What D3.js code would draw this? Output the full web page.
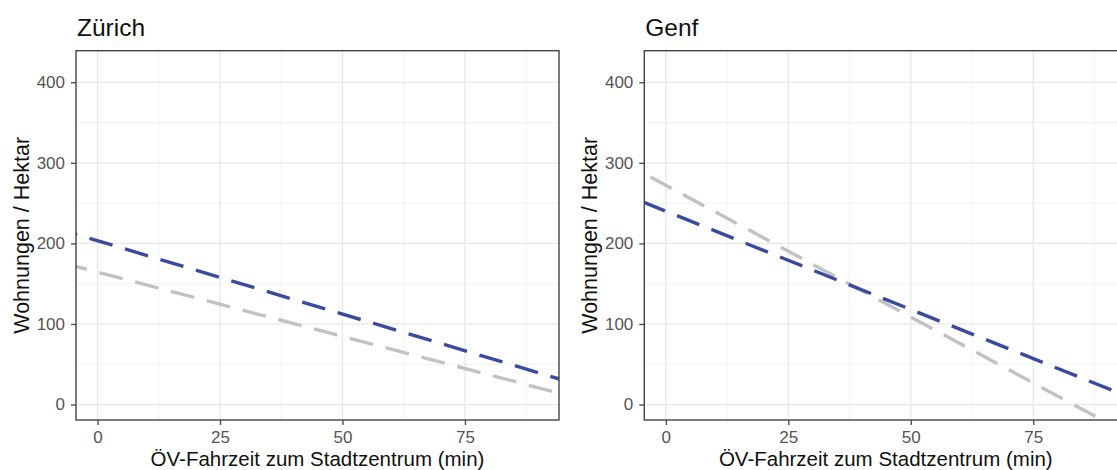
<!DOCTYPE html>
<html><head><meta charset="utf-8">
<script src="https://cdn.jsdelivr.net/npm/d3@7"></script>
<style>
body{margin:0;background:#fff}
svg{display:block}
text{font-family:"Liberation Sans",Arial,Helvetica,sans-serif}
</style>
</head><body>
<svg id="chart" width="1117" height="470"></svg>
<script>
// ---- data ----
const panelTitles = ["Zürich", "Genf"];
const xTicks = [0, 25, 50, 75];
const xMinor = [12.5, 37.5, 62.5, 87.5];
const yTicks = [0, 100, 200, 300, 400];
const yMinor = [50, 150, 250, 350];
const lineX = [-5, 95];                 // x positions of the two line end points
const blueZuerich = [212.4, 30.4];
const greyZuerich = [172.4, 12.8];
const blueGenf = [252.2, 8.2];
const greyGenf = [288.5, -38.6];
const xTitle = "ÖV-Fahrzeit zum Stadtzentrum (min)";
const yTitle = "Wohnungen / Hektar";

// ---- layout ----
(function () {
const svg = d3.select("#chart");
const W = 1117, H = 470;
const panelW = 483, pTop = 50.7, pBottom = 420;
const panelLeft = [76, 644.3];
const blue = "#3a4a9e", grey = "#c2c2c2";

const x = d3.scaleLinear().domain([-4.4, 94.2]).range([0, panelW]);
const y = d3.scaleLinear().domain([-19.2, 439.2]).range([pBottom - pTop, 0]);

const series = [
  [{vals: greyZuerich, color: grey, off: 9.8}, {vals: blueZuerich, color: blue, off: 19.8}],
  [{vals: greyGenf, color: grey, off: 26.6}, {vals: blueGenf, color: blue, off: 35.6}]
];

svg.append("rect").attr("width", W).attr("height", H).attr("fill", "#fff");

panelTitles.forEach((title, i) => {
  const g = svg.append("g").attr("transform", `translate(${panelLeft[i]},${pTop})`);
  const ph = pBottom - pTop;

  g.append("rect").attr("width", panelW).attr("height", ph).attr("fill", "#fff");

  // minor grid
  g.selectAll(".xmin").data(xMinor).join("line")
    .attr("x1", d => x(d)).attr("x2", d => x(d)).attr("y1", 0).attr("y2", ph)
    .attr("stroke", "#f2f2f2").attr("stroke-width", 1);
  g.selectAll(".ymin").data(yMinor).join("line")
    .attr("y1", d => y(d)).attr("y2", d => y(d)).attr("x1", 0).attr("x2", panelW)
    .attr("stroke", "#f2f2f2").attr("stroke-width", 1);
  // major grid
  g.selectAll(".xmaj").data(xTicks).join("line")
    .attr("x1", d => x(d)).attr("x2", d => x(d)).attr("y1", 0).attr("y2", ph)
    .attr("stroke", "#e8e8e8").attr("stroke-width", 1.3);
  g.selectAll(".ymaj").data(yTicks).join("line")
    .attr("y1", d => y(d)).attr("y2", d => y(d)).attr("x1", 0).attr("x2", panelW)
    .attr("stroke", "#e8e8e8").attr("stroke-width", 1.3);

  // lines (clipped)
  const clipId = "clip" + i;
  g.append("clipPath").attr("id", clipId).append("rect")
    .attr("width", panelW).attr("height", ph);
  const lg = g.append("g").attr("clip-path", `url(#${clipId})`);
  const line = d3.line().x(d => x(d[0])).y(d => y(d[1]));
  series[i].forEach(s => {
    lg.append("path")
      .attr("d", line(lineX.map((xv, k) => [xv, s.vals[k]])))
      .attr("fill", "none").attr("stroke", s.color).attr("stroke-width", 3.4)
      .attr("stroke-dasharray", "24,13").attr("stroke-dashoffset", s.off);
  });

  // border
  g.append("rect").attr("width", panelW).attr("height", ph)
    .attr("fill", "none").attr("stroke", "#444").attr("stroke-width", 1.4);

  // axes
  const xa = g.append("g").attr("transform", `translate(0,${ph})`)
    .call(d3.axisBottom(x).tickValues(xTicks).tickSize(5).tickPadding(6).tickFormat(d3.format("d")));
  const ya = g.append("g")
    .call(d3.axisLeft(y).tickValues(yTicks).tickSize(5).tickPadding(6).tickFormat(d3.format("d")));
  [xa, ya].forEach(a => {
    a.select(".domain").remove();
    a.selectAll(".tick line").attr("stroke", "#444").attr("stroke-width", 1.3);
    a.selectAll(".tick text").attr("fill", "#555").attr("font-size", 17)
      .attr("font-family", '"Liberation Sans",Arial,sans-serif');
  });

  // titles
  svg.append("text").attr("x", panelLeft[i] + 1).attr("y", 35.5)
    .attr("font-size", 24.5).attr("fill", "#111").text(title);
  svg.append("text").attr("x", panelLeft[i] + panelW / 2).attr("y", 465.5)
    .attr("text-anchor", "middle").attr("font-size", 20.5).attr("fill", "#111").text(xTitle);
  svg.append("text")
    .attr("transform", `translate(${panelLeft[i] - 47.5},${(pTop + pBottom) / 2}) rotate(-90)`)
    .attr("text-anchor", "middle").attr("font-size", 21.5).attr("fill", "#111").text(yTitle);
});
})();
</script>
</body></html>
